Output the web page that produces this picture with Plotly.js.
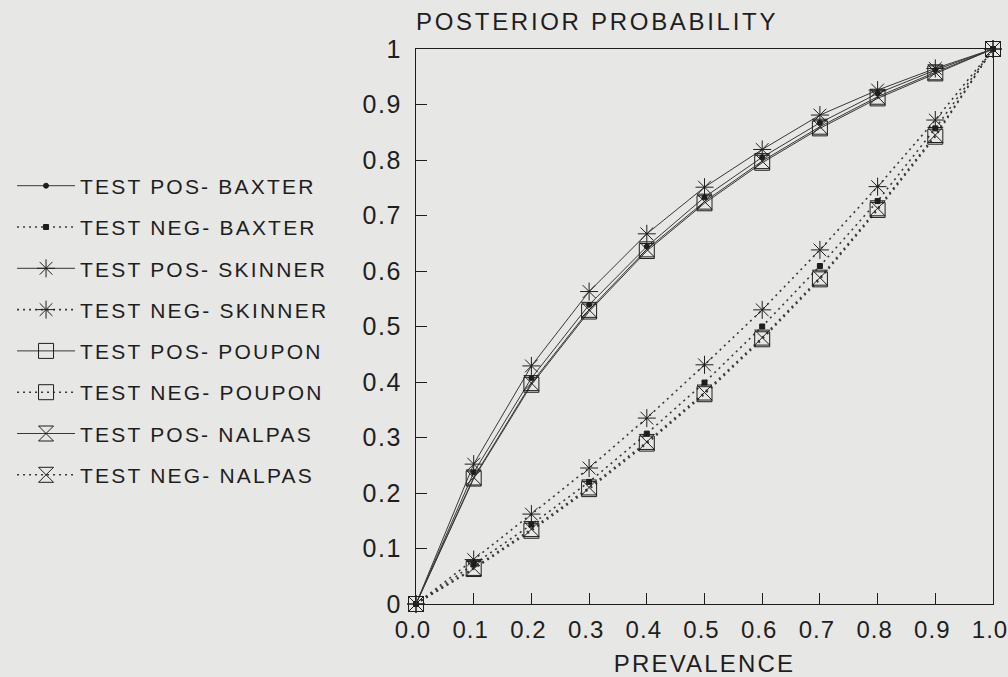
<!DOCTYPE html>
<html>
<head>
<meta charset="utf-8">
<script src="https://cdn.plot.ly/plotly-3.0.1.min.js"></script>
<style>
  html, body { margin: 0; padding: 0; background: #e7e7e5; }
  #chart { width: 1008px; height: 677px; }
  .legendtext { letter-spacing: 2.2px; }
  .xtick text { letter-spacing: 1.0px; }
  .ytick text { letter-spacing: 1.6px; }
  .xtitle { letter-spacing: 2.2px; }
  .gtitle { letter-spacing: 2.7px; }
</style>
</head>
<body>
<div id="chart"></div>
<script>
// ---- data ----
const prevalence = [0, 0.1, 0.2, 0.3, 0.4, 0.5, 0.6, 0.7, 0.8, 0.9, 1.0];

const posBaxter  = [0, 0.237, 0.407, 0.539, 0.644, 0.733, 0.805, 0.867, 0.920, 0.962, 1];
const negBaxter  = [0, 0.071, 0.143, 0.220, 0.307, 0.399, 0.500, 0.609, 0.726, 0.857, 1];
const posSkinner = [0, 0.252, 0.429, 0.563, 0.667, 0.751, 0.819, 0.881, 0.926, 0.965, 1];
const negSkinner = [0, 0.080, 0.162, 0.245, 0.335, 0.431, 0.530, 0.638, 0.752, 0.872, 1];
const posPoupon  = [0, 0.226, 0.395, 0.527, 0.636, 0.722, 0.795, 0.857, 0.911, 0.956, 1];
const negPoupon  = [0, 0.063, 0.132, 0.207, 0.289, 0.378, 0.477, 0.585, 0.710, 0.842, 1];
const posNalpas  = [0, 0.228, 0.398, 0.530, 0.639, 0.725, 0.798, 0.860, 0.914, 0.958, 1];
const negNalpas  = [0, 0.065, 0.135, 0.210, 0.292, 0.381, 0.480, 0.588, 0.713, 0.845, 1];

const seriesNames = [
  "TEST POS- BAXTER", "TEST NEG- BAXTER",
  "TEST POS- SKINNER", "TEST NEG- SKINNER",
  "TEST POS- POUPON", "TEST NEG- POUPON",
  "TEST POS- NALPAS", "TEST NEG- NALPAS"
];
const seriesValues = [posBaxter, negBaxter, posSkinner, negSkinner, posPoupon, negPoupon, posNalpas, negNalpas];

const xTickVals = [0, 0.1, 0.2, 0.3, 0.4, 0.5, 0.6, 0.7, 0.8, 0.9, 1.0];
const xTickText = ["0.0", "0.1", "0.2", "0.3", "0.4", "0.5", "0.6", "0.7", "0.8", "0.9", "1.0"];
const yTickVals = [0, 0.1, 0.2, 0.3, 0.4, 0.5, 0.6, 0.7, 0.8, 0.9, 1.0];
const yTickText = ["0", "0.1", "0.2", "0.3", "0.4", "0.5", "0.6", "0.7", "0.8", "0.9", "1"];

// ---- styles ----
const ink = "#1e1e1e";
const lineInk = "#383838";
const dotted = "2px,4px";
const styles = [
  { symbol: "circle", size: 5, dash: "solid", lw: 1 },
  { symbol: "square", size: 5, dash: dotted, lw: 1.6 },
  { symbol: "asterisk-open", size: 15, dash: "solid", lw: 1 },
  { symbol: "asterisk-open", size: 15, dash: dotted, lw: 1.6 },
  { symbol: "square-open", size: 15, dash: "solid", lw: 1 },
  { symbol: "square-open", size: 15, dash: dotted, lw: 1.6 },
  { symbol: "hourglass-open", size: 15, dash: "solid", lw: 1 },
  { symbol: "hourglass-open", size: 15, dash: dotted, lw: 1.6 }
];

const traces = seriesNames.map((name, i) => ({
  type: "scatter",
  mode: "lines+markers",
  name: name,
  legendgroup: "g" + i,
  x: prevalence,
  y: seriesValues[i],
  cliponaxis: false,
  line: { color: lineInk, width: styles[i].lw, dash: styles[i].dash },
  marker: {
    symbol: styles[i].symbol,
    size: styles[i].size,
    color: ink,
    line: { color: ink, width: 1 }
  }
}));

const fontFam = "Liberation Sans, Arial, Helvetica, sans-serif";

const layout = {
  width: 1008,
  height: 677,
  paper_bgcolor: "#e7e7e5",
  plot_bgcolor: "#e7e7e5",
  font: { family: fontFam, color: ink, size: 22 },
  margin: { l: 416, r: 15, t: 49, b: 73 },
  title: {
    text: "POSTERIOR PROBABILITY",
    font: { family: fontFam, size: 24, color: ink },
    xref: "paper", x: 0, xanchor: "left",
    yref: "container", y: 1 - 22 / 677, yanchor: "middle"
  },
  showlegend: true,
  legend: {
    x: -0.7001, xanchor: "left",
    y: 0.79, yanchor: "top",
    bgcolor: "rgba(0,0,0,0)",
    font: { family: fontFam, size: 21, color: ink },
    tracegroupgap: 11,
    itemwidth: 58,
    itemclick: false
  },
  xaxis: {
    range: [0, 1],
    showgrid: false, zeroline: false,
    showline: true, mirror: true, linecolor: ink, linewidth: 1,
    ticks: "inside", ticklen: 11, tickwidth: 1, tickcolor: ink,
    tickvals: xTickVals, ticktext: xTickText,
    tickfont: { family: fontFam, size: 24, color: ink },
    ticklabelstandoff: 4,
    ticklabelshift: -3,
    ticklabeloverflow: "allow",
    title: { text: "PREVALENCE", font: { family: fontFam, size: 24, color: ink }, standoff: 13 }
  },
  yaxis: {
    range: [0, 1],
    showgrid: false, zeroline: false,
    showline: true, mirror: true, linecolor: ink, linewidth: 1,
    ticks: "inside", ticklen: 11, tickwidth: 1, tickcolor: ink,
    tickvals: yTickVals, ticktext: yTickText,
    tickfont: { family: fontFam, size: 25, color: ink },
    ticklabelstandoff: 8
  }
};

Plotly.newPlot("chart", traces, layout, { displayModeBar: false, staticPlot: true });
</script>
</body>
</html>
